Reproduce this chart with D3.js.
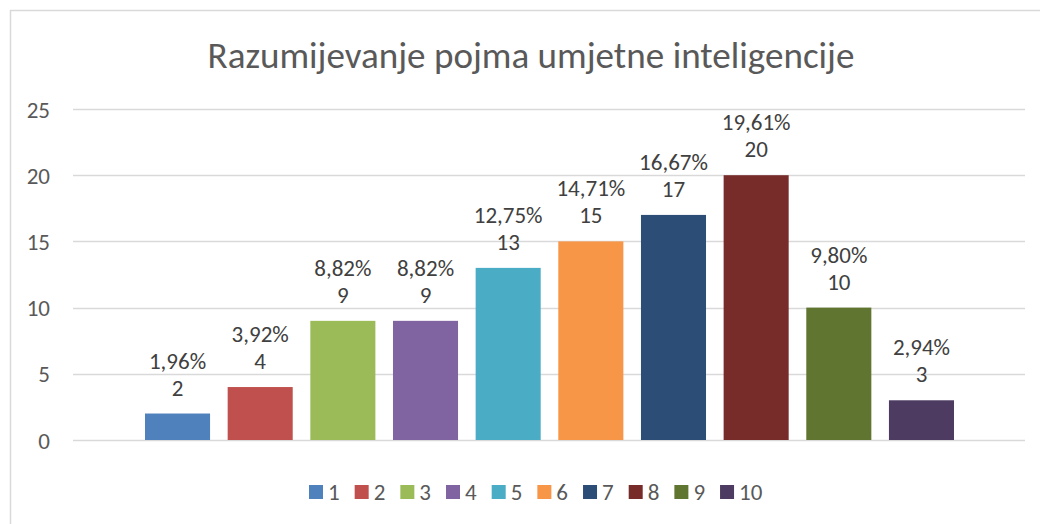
<!DOCTYPE html>
<html>
<head>
<meta charset="utf-8">
<script src="https://cdn.jsdelivr.net/npm/d3@7"></script>
<style>
  body { margin: 0; background: #fff; }
  svg text { font-family: Carlito, "Open Sans", "Liberation Sans", sans-serif; }
</style>
</head>
<body>
<div id="chart"></div>
<script>
// podaci
const kategorije = ["1", "2", "3", "4", "5", "6", "7", "8", "9", "10"];
const vrijednosti = [2, 4, 9, 9, 13, 15, 17, 20, 10, 3];
const postoci = ["1,96%", "3,92%", "8,82%", "8,82%", "12,75%", "14,71%", "16,67%", "19,61%", "9,80%", "2,94%"];
const boje = ["#4F81BD", "#C0504D", "#9BBB59", "#8064A2", "#4BACC6",
              "#F79646", "#2C4D75", "#772C2A", "#5F7530", "#4D3B62"];
const yTicks = [0, 5, 10, 15, 20, 25];
const naslov = "Razumijevanje pojma umjetne inteligencije";

const width = 1040, height = 524;
const plot = {left: 73, right: 1025, top: 109, bottom: 440};
const fs = 23;

const svg = d3.select("#chart").append("svg")
  .attr("width", width)
  .attr("height", height);

// okvir grafikona
svg.append("path")
  .attr("d", `M10.5,${height} L10.5,10.5 L${width},10.5`)
  .attr("fill", "none")
  .attr("stroke", "#d9d9d9")
  .attr("stroke-width", 1.5);

// naslov
const title = svg.append("text")
  .attr("x", 531)
  .attr("y", 68)
  .attr("text-anchor", "middle")
  .attr("fill", "#595959")
  .attr("font-size", 30)
  .text(naslov);
const tw = title.node().getComputedTextLength();
title.attr("font-size", 30 * 647 / tw);

const y = d3.scaleLinear().domain([0, 25]).range([plot.bottom, plot.top]);

// grupa stupaca: od 145 do 954
const x = d3.scaleBand()
  .domain(kategorije)
  .range([145 - 8.8, 954 + 8.8])
  .paddingInner(0.213)
  .paddingOuter(0.1065);

// mreža
svg.append("g")
  .selectAll("line")
  .data(yTicks)
  .join("line")
  .attr("x1", plot.left)
  .attr("x2", plot.right)
  .attr("y1", d => Math.round(y(d)) + 0.5)
  .attr("y2", d => Math.round(y(d)) + 0.5)
  .attr("stroke", "#d9d9d9")
  .attr("stroke-width", 1.3);

// y os
const yAxis = svg.append("g")
  .attr("transform", "translate(50,0)")
  .call(d3.axisLeft(y).tickValues(yTicks).tickSize(0).tickPadding(0));
yAxis.select(".domain").remove();
yAxis.selectAll("text")
  .attr("fill", "#595959")
  .attr("font-size", fs)
  .attr("dy", "0.35em")
  .style("font-family", "Carlito, 'Open Sans', 'Liberation Sans', sans-serif");

// stupci
const idx = d3.range(kategorije.length);
svg.append("g")
  .selectAll("rect")
  .data(idx)
  .join("rect")
  .attr("x", i => x(kategorije[i]))
  .attr("width", x.bandwidth())
  .attr("y", i => y(vrijednosti[i]))
  .attr("height", i => y(0) - y(vrijednosti[i]))
  .attr("fill", i => boje[i]);

// oznake
const oznake = svg.append("g")
  .attr("fill", "#404040")
  .attr("font-size", fs)
  .attr("text-anchor", "middle");
oznake.selectAll(".pct")
  .data(idx)
  .join("text")
  .attr("class", "pct")
  .attr("x", i => x(kategorije[i]) + x.bandwidth() / 2)
  .attr("y", i => y(vrijednosti[i]) - 45)
  .text(i => postoci[i]);
oznake.selectAll(".val")
  .data(idx)
  .join("text")
  .attr("class", "val")
  .attr("x", i => x(kategorije[i]) + x.bandwidth() / 2)
  .attr("y", i => y(vrijednosti[i]) - 18)
  .text(i => vrijednosti[i]);

// legenda
const legenda = svg.append("g").attr("transform", "translate(309,485)");
let lx = 0;
kategorije.forEach((k, i) => {
  const g = legenda.append("g").attr("transform", `translate(${lx},0)`);
  g.append("rect").attr("width", 14).attr("height", 14).attr("fill", boje[i]);
  const t = g.append("text")
    .attr("x", 19)
    .attr("y", 15)
    .attr("fill", "#595959")
    .attr("font-size", fs)
    .text(k);
  lx += 19 + t.node().getComputedTextLength() + 15;
});
</script>
</body>
</html>
